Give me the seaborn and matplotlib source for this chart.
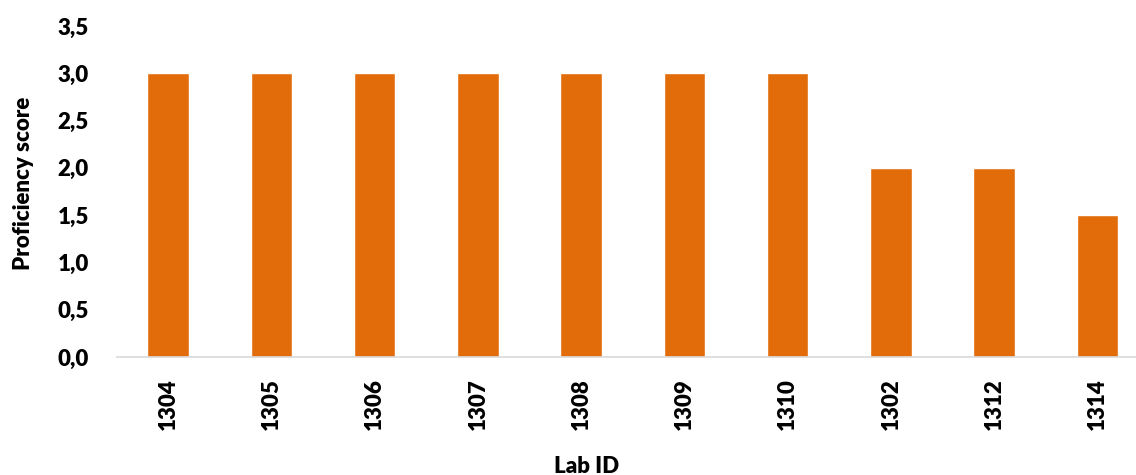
import matplotlib
matplotlib.use("Agg")
import matplotlib.pyplot as plt
import seaborn as sns
import pandas as pd
from matplotlib.ticker import FuncFormatter

lab_ids = ["1304", "1305", "1306", "1307", "1308", "1309", "1310", "1302", "1312", "1314"]
scores = [3.0, 3.0, 3.0, 3.0, 3.0, 3.0, 3.0, 2.0, 2.0, 1.5]
y_ticks = [0.0, 0.5, 1.0, 1.5, 2.0, 2.5, 3.0, 3.5]

sns.set_theme(style="white")
plt.rcParams["font.family"] = ["Lato", "DejaVu Sans"]

df = pd.DataFrame({"Lab ID": lab_ids, "Proficiency score": scores})

fig = plt.figure(figsize=(11.36, 4.75), dpi=100)
ax_left, ax_right, ax_top, ax_bottom = 116.5, 1149, 26, 357
ax = fig.add_axes([ax_left / 1136, 1 - ax_bottom / 475,
                   (ax_right - ax_left) / 1136, (ax_bottom - ax_top) / 475])

sns.barplot(data=df, x="Lab ID", y="Proficiency score", order=lab_ids,
            color="#E36C0A", saturation=1, width=0.4, ax=ax)

ax.set_ylim(0, 3.5)
ax.set_xlim(-0.5, len(lab_ids) - 0.5)
ax.set_yticks(y_ticks)
ax.yaxis.set_major_formatter(FuncFormatter(lambda v, p: f"{v:.1f}".replace(".", ",")))

for s in ["top", "right", "left"]:
    ax.spines[s].set_visible(False)
ax.spines["bottom"].set_color("#D9D9D9")
ax.spines["bottom"].set_linewidth(1.2)

fs = 16
ax.tick_params(axis="y", length=0, pad=20, labelsize=fs)
ax.tick_params(axis="x", length=0, pad=15, labelsize=fs, rotation=90)
for lbl in ax.get_xticklabels() + ax.get_yticklabels():
    lbl.set_fontweight("heavy")
    lbl.set_color("black")

ax.set_xlabel("Lab ID", fontsize=fs, fontweight="heavy", color="black")
ax.xaxis.set_label_coords((587 - ax_left) / (ax_right - ax_left),
                          -(456 - ax_bottom) / (ax_bottom - ax_top))
ax.set_ylabel("Proficiency score", fontsize=fs, fontweight="heavy", color="black")
ax.yaxis.set_label_coords(-(ax_left - 34) / (ax_right - ax_left),
                          (ax_bottom - 183) / (ax_bottom - ax_top))
ax.grid(False)

fig.savefig("out.png", dpi=100)
